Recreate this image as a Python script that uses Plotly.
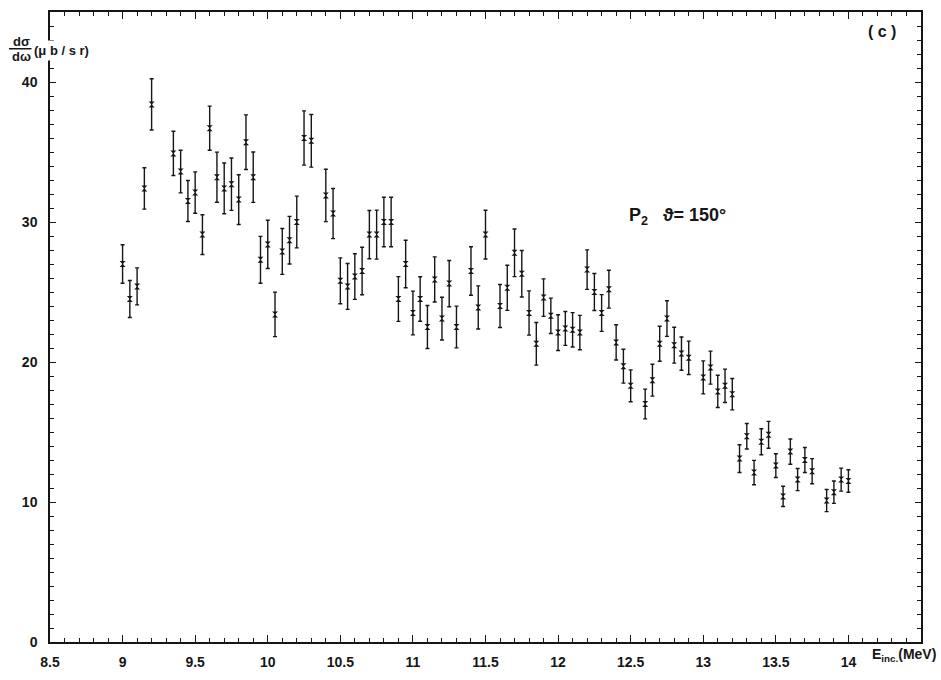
import plotly.graph_objects as go

# Incident energy (MeV)
energy = [
    9.00, 9.05, 9.10, 9.15, 9.20,
    9.35, 9.40, 9.45, 9.50, 9.55, 9.60, 9.65, 9.70, 9.75, 9.80,
    9.85, 9.90, 9.95, 10.00, 10.05, 10.10, 10.15, 10.20, 10.25, 10.30,
    10.40, 10.45, 10.50, 10.55, 10.60, 10.65, 10.70, 10.75, 10.80, 10.85,
    10.90, 10.95, 11.00, 11.05, 11.10, 11.15, 11.20, 11.25, 11.30,
    11.40, 11.45, 11.50,
    11.60, 11.65, 11.70, 11.75, 11.80, 11.85, 11.90, 11.95, 12.00, 12.05,
    12.10, 12.15, 12.20, 12.25, 12.30, 12.35, 12.40, 12.45, 12.50,
    12.60, 12.65, 12.70, 12.75, 12.80, 12.85, 12.90,
    13.00, 13.05, 13.10, 13.15, 13.20, 13.25, 13.30, 13.35, 13.40, 13.45,
    13.50, 13.55, 13.60, 13.65, 13.70, 13.75,
    13.85, 13.90, 13.95, 14.00,
]

# Differential cross section (microbarn / sr)
xsec = [
    27.0, 24.5, 25.4, 32.4, 38.4,
    34.9, 33.6, 31.5, 32.1, 29.1, 36.7, 33.2, 32.4, 32.7, 31.6,
    35.7, 33.2, 27.3, 28.4, 23.4, 27.9, 28.7, 30.0, 36.0, 35.8,
    31.9, 30.6, 25.8, 25.4, 26.1, 26.5, 29.1, 29.1, 30.0, 30.0,
    24.5, 27.0, 23.5, 24.5, 22.5, 25.9, 23.1, 25.6, 22.5,
    26.5, 23.9, 29.1,
    24.0, 25.3, 27.8, 26.3, 23.5, 21.3, 24.6, 23.3, 22.1, 22.4,
    22.3, 22.1, 26.6, 25.0, 23.5, 25.2, 21.4, 19.7, 18.3,
    17.0, 18.7, 21.3, 23.1, 21.2, 20.6, 20.3,
    18.9, 19.6, 17.9, 18.3, 17.7, 13.1, 14.7, 12.1, 14.3, 14.8,
    12.6, 10.4, 13.6, 11.6, 13.0, 12.2,
    10.1, 10.7, 11.6, 11.5,
]

# Statistical uncertainty (microbarn / sr)
xsec_err = [
    1.38, 1.32, 1.32, 1.48, 1.83,
    1.58, 1.52, 1.46, 1.48, 1.42, 1.58, 1.79, 1.81, 1.87, 1.78,
    1.95, 1.80, 1.67, 1.72, 1.59, 1.64, 1.70, 1.85, 1.94, 1.88,
    1.87, 1.79, 1.64, 1.64, 1.63, 1.70, 1.72, 1.75, 1.77, 1.77,
    1.60, 1.70, 1.56, 1.59, 1.54, 1.61, 1.53, 1.65, 1.49,
    1.73, 1.54, 1.74,
    1.54, 1.61, 1.70, 1.66, 1.58, 1.52, 1.34, 1.26, 1.28, 1.21,
    1.23, 1.23, 1.41, 1.32, 1.31, 1.35, 1.26, 1.21, 1.14,
    1.06, 1.14, 1.25, 1.27, 1.28, 1.19, 1.19,
    1.18, 1.18, 1.15, 1.19, 1.12, 0.99, 0.91, 0.87, 0.93, 0.96,
    0.85, 0.72, 0.90, 0.79, 0.89, 0.90,
    0.79, 0.80, 0.82, 0.80,
]

x_tick_vals = [8.5, 9, 9.5, 10, 10.5, 11, 11.5, 12, 12.5, 13, 13.5, 14]
x_tick_text = ["8.5", "9", "9.5", "10", "10.5", "11", "11.5", "12", "12.5", "13", "13.5", "14"]
y_tick_vals = [0, 10, 20, 30, 40]
y_tick_text = ["0", "10", "20", "30", "40"]

X_RANGE = [8.5, 14.5]
Y_RANGE = [0, 45]

INK = "#161616"
FONT = "Liberation Sans"

fig = go.Figure()
fig.add_trace(
    go.Scatter(
        x=energy,
        y=xsec,
        mode="markers",
        marker=dict(symbol="hourglass", size=6, color=INK),
        error_y=dict(type="data", array=xsec_err, visible=True,
                     color=INK, thickness=1.4, width=2),
        showlegend=False,
    )
)
# empty trace that carries the fine-division tick axes
fig.add_trace(go.Scatter(x=[], y=[], xaxis="x2", yaxis="y2",
                         showlegend=False, hoverinfo="skip"))

frame = dict(
    showline=True, linecolor=INK, linewidth=1.5, mirror="ticks",
    ticks="inside", tickcolor=INK,
    showgrid=False, zeroline=False,
)
label_font = dict(family=FONT, size=14, color=INK, weight="bold")

fig.update_layout(
    xaxis=dict(range=X_RANGE, tickmode="array", tickvals=x_tick_vals,
               ticktext=x_tick_text, ticklen=7, tickwidth=1.4,
               tickfont=label_font, ticklabelstandoff=6, **frame),
    yaxis=dict(range=Y_RANGE, tickmode="array", tickvals=y_tick_vals,
               ticktext=y_tick_text, ticklen=6, tickwidth=1.4,
               tickfont=label_font, ticklabelstandoff=8, **frame),
    # fine divisions: 0.1 MeV and 1 microbarn/sr
    xaxis2=dict(range=X_RANGE, overlaying="x", side="bottom", anchor="y2",
                tickmode="linear", tick0=8.5, dtick=0.1, ticklen=4,
                tickwidth=1, showticklabels=False, **frame),
    yaxis2=dict(range=Y_RANGE, overlaying="y", side="left", anchor="x2",
                tickmode="linear", tick0=0, dtick=1, ticklen=4,
                tickwidth=1, showticklabels=False, **frame),
)

L, R, T, B = 50, 20, 10, 27
W, H = 941, 680
pw, ph = W - L - R, H - T - B


def px(xp):
    return (xp - L) / pw


def py(yp):
    return (H - B - yp) / ph


bold = dict(family=FONT, color=INK, weight="bold")

annotations = [
    dict(text="( c )", x=px(882), y=py(30), font=dict(size=16, **bold)),
    dict(text="P<sub>2</sub>   ϑ= 150°", x=px(627), y=py(219), xanchor="left",
         font=dict(size=18, **bold)),
    dict(text="E<sub>inc.</sub>(MeV)", x=px(870), y=py(666), xanchor="left",
         font=dict(size=14, **bold)),
    dict(text="dσ", x=px(21), y=py(40), font=dict(size=13, **bold)),
    dict(text="dω", x=px(21), y=py(55), font=dict(size=13, **bold)),
    dict(text="(μ b / s r)", x=px(31), y=py(49), xanchor="left",
         bgcolor="white", borderpad=2, font=dict(size=13, **bold)),
]
for a in annotations:
    a.update(xref="paper", yref="paper", showarrow=False)
    a.setdefault("xanchor", "center")
    a.setdefault("yanchor", "middle")

fig.update_layout(
    width=W, height=H,
    margin=dict(l=L, r=R, t=T, b=B),
    paper_bgcolor="white", plot_bgcolor="white",
    annotations=annotations,
    shapes=[dict(type="line", xref="paper", yref="paper",
                 x0=px(9), x1=px(33), y0=py(47.5), y1=py(47.5),
                 line=dict(color=INK, width=1.5))],
)

fig.write_html("out.html")
